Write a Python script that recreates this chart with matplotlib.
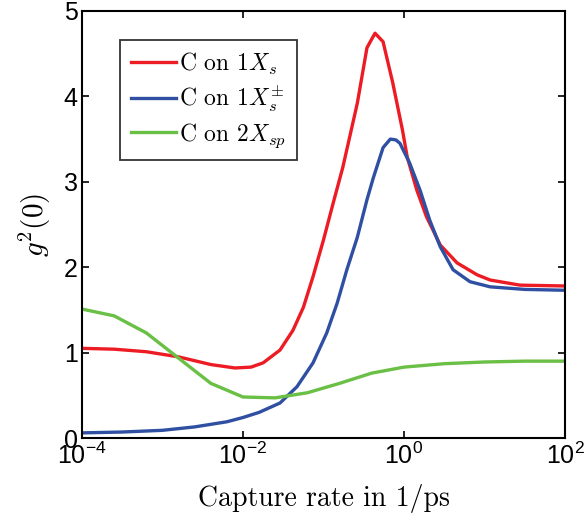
import matplotlib
matplotlib.use("Agg")
import matplotlib.pyplot as plt
from matplotlib.font_manager import FontProperties
import numpy as np

# log10 of capture rate (1/ps) and g2(0) values
red_logx = [-4.0, -3.6, -3.2, -2.8, -2.4, -2.1, -1.9, -1.75, -1.54, -1.38, -1.25, -1.13,
            -1.0, -0.88, -0.76, -0.58, -0.46, -0.36, -0.26, -0.14, -0.02, 0.04, 0.16,
            0.28, 0.45, 0.66, 0.91, 1.07, 1.44, 2.0]
red_y = [1.05, 1.04, 1.01, 0.95, 0.86, 0.82, 0.83, 0.88, 1.03, 1.26, 1.53, 1.89,
         2.32, 2.75, 3.17, 3.92, 4.57, 4.74, 4.64, 4.16, 3.61, 3.29, 2.90,
         2.59, 2.26, 2.05, 1.91, 1.85, 1.79, 1.78]

blue_logx = [-4.0, -3.5, -3.0, -2.6, -2.2, -2.0, -1.8, -1.54, -1.33, -1.13, -0.96, -0.83,
             -0.71, -0.58, -0.46, -0.38, -0.26, -0.17, -0.10, -0.05, 0.07, 0.20, 0.32,
             0.45, 0.61, 0.82, 1.07, 1.5, 2.0]
blue_y = [0.06, 0.07, 0.09, 0.13, 0.19, 0.24, 0.30, 0.41, 0.60, 0.88, 1.23, 1.58,
          1.97, 2.35, 2.79, 3.05, 3.40, 3.50, 3.49, 3.45, 3.22, 2.90, 2.55,
          2.24, 1.97, 1.83, 1.77, 1.74, 1.73]

green_logx = [-4.0, -3.6, -3.2, -2.4, -2.0, -1.6, -1.2, -0.8, -0.4, 0.0, 0.5, 1.0, 1.5, 2.0]
green_y = [1.51, 1.43, 1.23, 0.64, 0.48, 0.47, 0.53, 0.64, 0.76, 0.83, 0.87, 0.89, 0.90, 0.90]

labels = ['C on 1$X_s$', 'C on 1$X_s^{\\pm}$', 'C on 2$X_{sp}$']
colors = ['#ed1c24', '#2f4fa2', '#6abf45']

plt.rcParams['font.family'] = ['Liberation Sans', 'DejaVu Sans']
plt.rcParams['mathtext.fontset'] = 'custom'
plt.rcParams['mathtext.rm'] = 'Liberation Sans'
plt.rcParams['mathtext.it'] = 'Liberation Sans:italic'

fig = plt.figure(figsize=(5.87, 5.27), dpi=100)
ax = fig.add_axes([82 / 587, 1 - 438 / 527, 483 / 587, 427 / 527])

for lx, y, c, lab in zip([red_logx, blue_logx, green_logx], [red_y, blue_y, green_y], colors, labels):
    ax.plot(10 ** np.array(lx), y, color=c, lw=2.4, label=lab)

ax.set_xscale('log')
ax.set_xlim(1e-4, 1e2)
ax.set_ylim(0, 5)
ax.set_xticks([1e-4, 1e-2, 1e0, 1e2])
ax.set_xticklabels([r'$10^{-4}$', r'$10^{-2}$', r'$10^{0}$', r'$10^{2}$'])
ax.set_yticks([0, 1, 2, 3, 4, 5])
ax.minorticks_off()
ax.tick_params(direction='in', top=True, right=True, length=5, width=1.2,
               labelsize=18, pad=3)
for s in ax.spines.values():
    s.set_linewidth(1.5)

cmfont = dict(family='cmr10', math_fontfamily='cm')
ax.set_xlabel('Capture rate in 1/ps', fontsize=20, labelpad=11, **cmfont)
ax.set_ylabel('$g^2(0)$', fontsize=21, labelpad=8, **cmfont)

leg = ax.legend(loc='upper left', bbox_to_anchor=(0.079, 0.932), frameon=True, fancybox=False,
                prop=FontProperties(family='cmr10', size=17, math_fontfamily='cm'),
                handlelength=1.9, handletextpad=0.15, labelspacing=0.3, borderpad=0.45,
                borderaxespad=0)
leg.get_frame().set_edgecolor('black')
leg.get_frame().set_linewidth(1.3)

fig.savefig('out.png', dpi=100)
